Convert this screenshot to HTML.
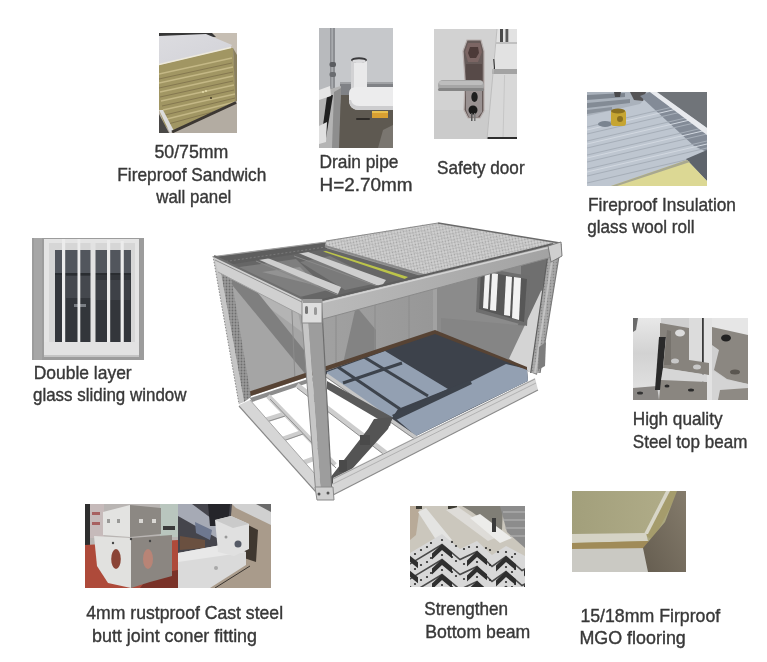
<!DOCTYPE html>
<html><head><meta charset="utf-8">
<style>
html,body{margin:0;padding:0;background:#fff;}
body{width:767px;height:662px;overflow:hidden;position:relative;}
svg{position:absolute;left:0;top:0;}
text{font-family:"Liberation Sans",sans-serif;fill:#383838;}
</style></head><body>
<svg width="767" height="662" viewBox="0 0 767 662">
<defs>
<clipPath id="c1"><rect x="159" y="33" width="78" height="100"/></clipPath>
<clipPath id="c2"><rect x="319" y="28" width="74" height="120"/></clipPath>
<clipPath id="c3"><rect x="434" y="29" width="83" height="110"/></clipPath>
<clipPath id="c4"><rect x="587" y="92" width="120" height="94"/></clipPath>
<clipPath id="c5"><rect x="32" y="238" width="112" height="122"/></clipPath>
<clipPath id="c6"><rect x="633" y="318" width="115" height="82"/></clipPath>
<clipPath id="c7"><rect x="85" y="504" width="93" height="84"/></clipPath>
<clipPath id="c7b"><rect x="178" y="504" width="93" height="84"/></clipPath>
<clipPath id="c8"><rect x="410" y="506" width="115" height="81"/></clipPath>
<clipPath id="c9"><rect x="572" y="491" width="114" height="81"/></clipPath>
<linearGradient id="g1top" x1="0" y1="0" x2="1" y2="1"><stop offset="0" stop-color="#dcdce0"/><stop offset="1" stop-color="#d2d2d8"/></linearGradient>
<linearGradient id="g6a" x1="0" y1="0" x2="0" y2="1"><stop offset="0" stop-color="#e8e8e8"/><stop offset="0.5" stop-color="#d2d2d2"/><stop offset="1" stop-color="#e0e0e0"/></linearGradient>
<linearGradient id="g9a" x1="0" y1="0" x2="1" y2="0"><stop offset="0" stop-color="#a29f7b"/><stop offset="1" stop-color="#b0ac88"/></linearGradient>
<linearGradient id="g9b" x1="0" y1="1" x2="1" y2="0"><stop offset="0" stop-color="#655d50"/><stop offset="1" stop-color="#857c6c"/></linearGradient>
<linearGradient id="gfr" x1="322" y1="0" x2="556" y2="0" gradientUnits="userSpaceOnUse"><stop offset="0" stop-color="#bababa"/><stop offset="1" stop-color="#a2a2a2"/></linearGradient>
<linearGradient id="gbw" x1="224" y1="0" x2="437" y2="0" gradientUnits="userSpaceOnUse"><stop offset="0" stop-color="#a8a8a8"/><stop offset="0.5" stop-color="#a0a0a0"/><stop offset="1" stop-color="#979797"/></linearGradient>
<pattern id="proof" width="3" height="3" patternUnits="userSpaceOnUse" patternTransform="rotate(-12)"><rect width="3" height="3" fill="#d2d2d2"/><circle cx="1.5" cy="1.5" r="0.9" fill="#a2a2a2"/></pattern>
<pattern id="pdot" width="3" height="3" patternUnits="userSpaceOnUse"><rect width="3" height="3" fill="#9a9a9a"/><circle cx="1.5" cy="1.5" r="0.9" fill="#6e6e6e"/></pattern>
<pattern id="pdot2" width="3" height="3" patternUnits="userSpaceOnUse"><rect width="3" height="3" fill="#a8a8a8"/><circle cx="1.5" cy="1.5" r="0.8" fill="#888"/></pattern>
</defs>

<g id="photos">
<!-- P1 sandwich panel -->
<g clip-path="url(#c1)">
<rect x="159" y="33" width="78" height="100" fill="#b7afa5"/>
<polygon points="205,33 237,33 237,72 229,46" fill="#c6beb3"/>
<polygon points="159,33 212,33 216,37 159,36" fill="#363636"/>
<polygon points="159,36 206,34 232,45 230,48 159,65" fill="url(#g1top)"/>
<polygon points="159,65 230,48 233,48 236,102 172,132 165,126 159,110" fill="#a19663"/>
<line x1="159" y1="64.5" x2="231" y2="47.5" stroke="#eeeadc" stroke-width="1.3"/>
<g stroke="#c4b886" stroke-width="1.3" fill="none">
<line x1="159" y1="74" x2="232" y2="58"/>
<line x1="159" y1="83" x2="233" y2="67"/>
<line x1="160" y1="92" x2="233" y2="76"/>
<line x1="161" y1="101" x2="234" y2="85"/>
<line x1="163" y1="110" x2="235" y2="94"/>
<line x1="167" y1="119" x2="235" y2="102"/>
</g>
<g stroke="#857850" stroke-width="1" fill="none">
<line x1="159" y1="79" x2="232" y2="63"/>
<line x1="159" y1="88" x2="233" y2="72"/>
<line x1="160" y1="97" x2="233" y2="81"/>
<line x1="162" y1="106" x2="234" y2="90"/>
<line x1="165" y1="115" x2="235" y2="98"/>
<line x1="168" y1="124" x2="235" y2="106"/>
</g>
<polygon points="233,48 237,55 237,102 235.5,102" fill="#8a8060"/>
<polygon points="159,110 163,110 174,131 170,133" fill="#dcdcdc"/>
<polygon points="159,114 169,133 159,133" fill="#4a4846"/>
<polygon points="236,101 237,101 237,133 176,133 173,131" fill="#b3aca2"/>
<line x1="236" y1="102.5" x2="172" y2="132" stroke="#3c3732" stroke-width="3"/>
<circle cx="203" cy="92" r="0.9" fill="#e8e0b0"/><circle cx="206" cy="91" r="0.9" fill="#e8e0b0"/><circle cx="211" cy="98" r="0.9" fill="#3a3020"/>
</g>
<!-- P2 drain pipe -->
<g clip-path="url(#c2)">
<rect x="319" y="28" width="74" height="120" fill="#c6c8cb"/>
<rect x="319" y="28" width="11" height="65" fill="#b8babd"/>
<rect x="330" y="28" width="5" height="62" fill="#8c8e92"/>
<rect x="331.5" y="28" width="1.3" height="60" fill="#b0b2b5"/>
<rect x="329.5" y="62" width="6.5" height="5" rx="2" fill="#5a5c60"/>
<rect x="329.5" y="72" width="6.5" height="5" rx="2" fill="#6a6c70"/>
<polygon points="340,82 393,82 393,95 340,95" fill="#808286"/>
<rect x="340" y="82" width="53" height="2" fill="#a0a2a5"/>
<polygon points="338,95 393,95 393,148 334,148" fill="#5e5951"/>
<polygon points="383,130 393,125 393,148 378,148" fill="#7a7670"/>
<rect x="356" y="118" width="14" height="2" rx="1" fill="#2e2b28"/>
<polygon points="319,92 341,86 338,148 319,148" fill="#b4b4b4"/>
<polygon points="327,96 333,95 326,138 321,140" fill="#202020"/>
<polygon points="319,90 330,86 331,96 319,100" fill="#e6e6e6"/>
<polygon points="319,126 327,122 326,142 319,144" fill="#e0e0e0"/>
<polygon points="334,92 341,88 339,148 332,148" fill="#8e8e8e"/>
<!-- pipe -->
<rect x="351" y="60" width="16" height="40" fill="#e9e9ea"/>
<rect x="351" y="60" width="3" height="34" fill="#d2d2d4"/>
<ellipse cx="359" cy="60" rx="8" ry="2.8" fill="#3a3a3c"/>
<ellipse cx="359" cy="61.2" rx="6.8" ry="1.9" fill="#dcdcde"/>
<path d="M349,93 Q349,87 357,87 L393,87 L393,110 L360,110 Q349,110 349,100 Z" fill="#ececed"/>
<path d="M349,100 Q349,110 360,110 L393,110 L393,106 L360,106 Q352,106 351,100 Z" fill="#cdcdcf"/>
<rect x="372" y="111" width="16" height="7" fill="#d9a032"/>
<rect x="372" y="111" width="16" height="2" fill="#e8c050"/>
</g>
<!-- P3 safety door -->
<g clip-path="url(#c3)">
<rect x="434" y="29" width="83" height="110" fill="#d2d2d2"/>
<rect x="434" y="110" width="60" height="29" fill="#cbcbcb"/>
<polygon points="497,29 517,29 517,139 487,139" fill="#d8d8d8"/>
<polygon points="497,29 517,29 517,69 492.5,69" fill="#e2e2e2"/>
<rect x="500" y="29" width="3" height="13" fill="#4a4a4a"/>
<rect x="505.5" y="29" width="2.8" height="13" fill="#5a5a5a"/>
<rect x="496" y="42" width="21" height="2" fill="#c0c0c0"/>
<polygon points="492.5,69 517,69 517,74 492,74" fill="#a3a3a3"/>
<rect x="493" y="59" width="2" height="10" fill="#333"/>
<line x1="504.6" y1="75" x2="503" y2="139" stroke="#c6c6c6" stroke-width="1"/>
<rect x="487" y="137" width="30" height="2" fill="#2e2e2e"/>
<line x1="497" y1="29" x2="487" y2="139" stroke="#bdbdbd" stroke-width="1"/>
<!-- lock plate -->
<polygon points="467,40 481,40 484,51 484,111 480,118 468,118 464,110 465,80 463,51" fill="#675b59" stroke="#b9b1b0" stroke-width="1.2"/>
<polygon points="468,43 480,43 482,52 478,62 468,62 465,52" fill="#7c6664"/>
<polygon points="470,47 478,47 479,53 476,58 470,58 468,53" fill="#4c3a38"/>
<polygon points="466,64 482,64 482,80 466,80" fill="#574a48"/>
<polygon points="466,90 482,90 482,112 478,117 469,117 466,110" fill="#9a9292"/>
<ellipse cx="474.5" cy="97" rx="3.2" ry="5" fill="#1e1e1e"/>
<ellipse cx="473" cy="110" rx="4.5" ry="4.5" fill="#1a1a1a"/>
<rect x="471" y="113" width="1.5" height="8" fill="#555"/>
<rect x="474" y="113" width="1.5" height="8" fill="#777"/>
<!-- lever -->
<rect x="438" y="80" width="46" height="11" rx="5" fill="#a6a6a6"/>
<rect x="439" y="81" width="44" height="4" rx="2" fill="#bdbdbd"/>
<rect x="438" y="88" width="46" height="3" rx="1.5" fill="#858585"/>
</g>
<!-- P4 insulation -->
<g clip-path="url(#c4)">
<rect x="587" y="92" width="120" height="95" fill="#bec6d0"/>
<polygon points="587,92 652,92 640,104 587,116" fill="#aab2bc"/>
<polygon points="587,95 625,93 625,97 587,100" fill="#7e8690"/>
<polygon points="587,103 630,99 630,103 587,108" fill="#838b95"/>
<polygon points="587,110 612,107 612,110 587,114" fill="#8a929c"/>
<polygon points="614,92 621,92 620,97 615,97" fill="#4a4a4c"/>
<polygon points="630,92 646,92 643,101 634,100" fill="#555456"/>
<polygon points="640,96 650,92 707,134 707,152 694,146" fill="#838b97"/>
<g stroke="#a6aeb8" stroke-width="1.2" fill="none">
<line x1="587" y1="127" x2="707" y2="99"/>
<line x1="587" y1="134" x2="707" y2="106"/>
<line x1="587" y1="141" x2="707" y2="113"/>
<line x1="587" y1="148" x2="707" y2="120"/>
<line x1="587" y1="155" x2="707" y2="127"/>
<line x1="587" y1="162" x2="707" y2="134"/>
<line x1="587" y1="169" x2="707" y2="141"/>
<line x1="587" y1="176" x2="707" y2="148"/>
<line x1="587" y1="183" x2="707" y2="155"/>
</g>
<g stroke="#d2d8e0" stroke-width="1" fill="none">
<line x1="587" y1="130" x2="707" y2="102"/>
<line x1="587" y1="144" x2="707" y2="116"/>
<line x1="587" y1="158" x2="707" y2="130"/>
<line x1="587" y1="172" x2="707" y2="144"/>
</g>
<polygon points="656,92 707,92 707,128" fill="#707479"/>
<polygon points="650,92 657,92 707,128 707,135" fill="#e8eaee"/>
<polygon points="686,159 707,150 707,181" fill="#5e646c"/>
<polygon points="608,187 687,160 707,181 707,187" fill="#dcd894"/>
<polygon points="608,187 687,160 690,162 614,187" fill="#a8a890"/>
<ellipse cx="605" cy="124" rx="7" ry="3" fill="#7a8490"/>
<rect x="611" y="110" width="15" height="16" rx="3" fill="#c6a532"/>
<ellipse cx="618" cy="111" rx="7" ry="2.5" fill="#8a7020"/>
<ellipse cx="620" cy="119" rx="3" ry="3" fill="#8a7020"/>
</g>
<!-- P5 window -->
<g clip-path="url(#c5)">
<rect x="32" y="238" width="112" height="122" fill="#9c9c9c"/>
<rect x="34" y="238" width="8" height="122" fill="#a6a6a6"/>
<rect x="44" y="239" width="95" height="118" fill="#e4e4e4"/>
<rect x="49" y="243" width="86" height="110" fill="#d6d6d6"/>
<rect x="55" y="250" width="76" height="92" fill="#33363b"/>
<rect x="55" y="250" width="76" height="23" fill="#52565d"/>
<rect x="66" y="276" width="26" height="22" fill="#45484e"/>
<rect x="96" y="280" width="34" height="20" fill="#3e4147"/>
<rect x="74" y="304" width="12" height="3" fill="#7a7e84"/>
<rect x="55" y="273" width="76" height="2" fill="#2a2d31"/>
<rect x="90.5" y="243" width="5" height="110" fill="#e2e2e2"/>
<g fill="#ececec">
<rect x="62" y="239" width="3.2" height="118"/>
<rect x="77.5" y="239" width="2.8" height="118"/>
<rect x="107" y="240" width="3.2" height="117"/>
<rect x="120.6" y="241" width="3.2" height="116"/>
</g>
<rect x="44" y="342" width="95" height="15" fill="#e2e2e2"/>
<rect x="44" y="355" width="95" height="2" fill="#c4c4c4"/>
</g>
<!-- P6 steel top beam -->
<g clip-path="url(#c6)">
<rect x="633" y="318" width="115" height="82" fill="#cfcfcf"/>
<polygon points="633,318 661,318 661,338 656,387 633,389" fill="url(#g6a)"/>
<polygon points="633,318 638,318 636,330 633,332" fill="#6a6a6a"/>
<polygon points="633,388 657,386 659,400 633,400" fill="#8a8784"/>
<ellipse cx="640" cy="393" rx="3" ry="1.5" fill="#333"/>
<polygon points="659,337 666,336 661,390 655,390" fill="#2a2a2a"/>
<polygon points="689,318 703,318 703,361 689,360" fill="#dcdcdc"/>
<polygon points="703,318 712,318 712,400 703,400" fill="#e2e2e2"/>
<rect x="702" y="318" width="1.8" height="82" fill="#3a3a3a"/>
<polygon points="660,323 689,328 689,360 709,363 709,375 663,368 666,337 660,337" fill="#87837d"/>
<polygon points="667,330 671,331 671,365 664,365" fill="#77736d"/>
<ellipse cx="680" cy="333" rx="5" ry="3.5" fill="#dcdcdc"/>
<ellipse cx="675" cy="361" rx="4" ry="2.5" fill="#c8c8c8"/>
<ellipse cx="697" cy="367" rx="4" ry="2.5" fill="#c8c8c8"/>
<polygon points="663,368 707,375 707,382 661,380" fill="#d6d6d6"/>
<polygon points="661,380 707,382 707,400 659,400" fill="#8a8680"/>
<ellipse cx="667" cy="386" rx="2.5" ry="1.5" fill="#2a2a2a"/>
<ellipse cx="691" cy="390" rx="3" ry="1.5" fill="#2a2a2a"/>
<polygon points="712,318 748,318 748,336 712,328" fill="#e6e6e6"/>
<polygon points="712,327 748,335 748,384 727,379 714,370 719,350 712,345" fill="#8b8781"/>
<ellipse cx="726" cy="338" rx="5" ry="3.5" fill="#222"/>
<ellipse cx="735" cy="372" rx="5" ry="2.5" fill="#5a5650"/>
<polygon points="712,370 727,380 748,384 748,400 712,400" fill="#d4d4d4"/>
<polygon points="720,390 748,388 748,400 718,400" fill="#8e8a84"/>
</g>
<!-- P7a corner fitting left -->
<g clip-path="url(#c7)">
<rect x="85" y="504" width="93" height="84" fill="#b9b5b3"/>
<rect x="85" y="504" width="5" height="42" fill="#2e2e2e"/>
<rect x="90" y="504" width="14" height="34" fill="#c6baba"/>
<rect x="92" y="512" width="8" height="3" fill="#a86060"/>
<rect x="92" y="522" width="8" height="3" fill="#a86060"/>
<rect x="160" y="504" width="18" height="33" fill="#b9c6be"/>
<rect x="163" y="526" width="12" height="4" fill="#3a3a3a"/>
<polygon points="85,545 178,540 178,588 85,588" fill="#ae4a3a"/>
<polygon points="150,575 178,570 178,588 140,588" fill="#7a3228"/>
<!-- upper box -->
<polygon points="103,512 130,505 130,537 103,535" fill="#e3e3e1"/>
<polygon points="130,505 161,508 161,534 130,537" fill="#8c8883"/>
<rect x="107" y="519" width="3" height="4" fill="#9a9a98"/>
<rect x="117" y="519" width="3" height="4" fill="#9a9a98"/>
<rect x="139" y="519" width="4" height="4" fill="#dad8d4"/>
<rect x="152" y="519" width="4" height="4" fill="#dad8d4"/>
<!-- lower box -->
<polygon points="94,536 131,538 131,588 108,583 97,566" fill="#e1e1df"/>
<polygon points="131,538 172,535 172,576 150,582 131,588" fill="#8b8681"/>
<ellipse cx="116" cy="559" rx="4.8" ry="10" fill="#8a4436"/>
<ellipse cx="148" cy="559" rx="5" ry="10" fill="#b88476"/>
<circle cx="113" cy="543" r="1.2" fill="#444"/>
<circle cx="131" cy="539" r="1.2" fill="#444"/>
<circle cx="150" cy="541" r="1.2" fill="#444"/>
</g>
<!-- P7b corner fitting right -->
<g clip-path="url(#c7b)">
<rect x="178" y="504" width="93" height="84" fill="#a99b8b"/>
<polygon points="178,504 232,504 230,527 222,558 178,560" fill="#45454c"/>
<polygon points="178,504 192,504 223,527 217,538 178,516" fill="#a6aab5"/>
<polygon points="195,522 212,530 210,540 196,533" fill="#6e7890"/>
<polygon points="180,536 205,540 205,548 180,550" fill="#6a5040"/>
<polygon points="208,504 230,504 228,526 210,526" fill="#25252a"/>
<polygon points="232,504 271,504 271,525 236,508" fill="#d0d0d0"/>
<polygon points="256,504 271,504 271,512" fill="#6a6a6a"/>
<polygon points="246,524 258,530 256,562 244,558" fill="#403830"/>
<polygon points="178,553 221,545 246,552 246,565 210,588 178,588" fill="#dadada"/>
<polygon points="178,553 221,545 246,552 220,556 178,562" fill="#e8e8e8"/>
<polygon points="215,520 231,516 249,524 249,549 234,556 218,552" fill="#e0e0e0"/>
<polygon points="215,520 231,516 249,524 233,528" fill="#cacaca"/>
<circle cx="238" cy="544" r="3.5" fill="#555a66"/>
<circle cx="226" cy="537" r="1.5" fill="#999"/>
<circle cx="216" cy="568" r="2" fill="#a8a8a8"/>
<line x1="215" y1="588" x2="250" y2="566" stroke="#3a3530" stroke-width="1"/>
</g>
<!-- P8 bottom beam -->
<g clip-path="url(#c8)">
<rect x="410" y="506" width="115" height="81" fill="#cbc7bd"/>
<polygon points="410,506 420,506 416,535 410,540" fill="#b8aa98"/>
<polygon points="462,506 503,506 502,530 488,524 472,512" fill="#807e76"/>
<rect x="416" y="506" width="6" height="3" fill="#3e3c34"/>
<rect x="448" y="506" width="9" height="3" fill="#3e3c34"/>
<polygon points="418,512 426,508 452,540 440,546" fill="#e4e4e2"/>
<polygon points="446,510 458,507 500,536 488,541" fill="#dedcd8"/>
<polygon points="470,518 480,514 512,538 500,543" fill="#ececea"/>
<polygon points="500,506 525,506 525,548 507,532" fill="#8c8c8c"/>
<rect x="492" y="518" width="4" height="14" fill="#3a3a3a"/>
<g stroke="#b2b2b2" stroke-width="1.2"><line x1="503" y1="512" x2="525" y2="512"/><line x1="503" y1="520" x2="525" y2="520"/><line x1="505" y1="528" x2="525" y2="528"/><line x1="510" y1="536" x2="525" y2="536"/></g>
<polygon points="410,553 442,534 460,549 477,541 492,555 506,546 525,556 525,587 410,587" fill="#d8d8d8"/>
<polyline points="404,567.5 442,544.5 460,559.5 477,551.5 492,566.5 506,556.5 522,570.5 532,565.5" fill="none" stroke="#4a4a4a" stroke-width="1.6"/>
<polygon points="408,554 418,562.3 418,568.3 408,560 398,569.4 398,563.4" fill="#2f2f2f"/>
<polygon points="442,544 452,552.3 452,558.3 442,550 432,559.4 432,553.4" fill="#2f2f2f"/>
<polygon points="477,551 487,559.3 487,565.3 477,557 467,566.4 467,560.4" fill="#2f2f2f"/>
<polygon points="506,556 516,564.3 516,570.3 506,562 496,571.4 496,565.4" fill="#2f2f2f"/>
<polygon points="534,561 544,569.3 544,575.3 534,567 524,576.4 524,570.4" fill="#2f2f2f"/>
<polyline points="404,582.5 442,559.5 460,574.5 477,566.5 492,581.5 506,571.5 522,585.5 532,580.5" fill="none" stroke="#4a4a4a" stroke-width="1.6"/>
<polygon points="408,569 418,577.3 418,583.3 408,575 398,584.4 398,578.4" fill="#2f2f2f"/>
<polygon points="442,559 452,567.3 452,573.3 442,565 432,574.4 432,568.4" fill="#2f2f2f"/>
<polygon points="477,566 487,574.3 487,580.3 477,572 467,581.4 467,575.4" fill="#2f2f2f"/>
<polygon points="506,571 516,579.3 516,585.3 506,577 496,586.4 496,580.4" fill="#2f2f2f"/>
<polygon points="534,576 544,584.3 544,590.3 534,582 524,591.4 524,585.4" fill="#2f2f2f"/>
<polyline points="404,597.5 442,574.5 460,589.5 477,581.5 492,596.5 506,586.5 522,600.5 532,595.5" fill="none" stroke="#4a4a4a" stroke-width="1.6"/>
<polygon points="408,584 418,592.3 418,598.3 408,590 398,599.4 398,593.4" fill="#2f2f2f"/>
<polygon points="442,574 452,582.3 452,588.3 442,580 432,589.4 432,583.4" fill="#2f2f2f"/>
<polygon points="477,581 487,589.3 487,595.3 477,587 467,596.4 467,590.4" fill="#2f2f2f"/>
<polygon points="506,586 516,594.3 516,600.3 506,592 496,601.4 496,595.4" fill="#2f2f2f"/>
<polygon points="534,591 544,599.3 544,605.3 534,597 524,606.4 524,600.4" fill="#2f2f2f"/>
<polyline points="404,612.5 442,589.5 460,604.5 477,596.5 492,611.5 506,601.5 522,615.5 532,610.5" fill="none" stroke="#4a4a4a" stroke-width="1.6"/>
<polygon points="408,599 418,607.3 418,613.3 408,605 398,614.4 398,608.4" fill="#2f2f2f"/>
<polygon points="442,589 452,597.3 452,603.3 442,595 432,604.4 432,598.4" fill="#2f2f2f"/>
<polygon points="477,596 487,604.3 487,610.3 477,602 467,611.4 467,605.4" fill="#2f2f2f"/>
<polygon points="506,601 516,609.3 516,615.3 506,607 496,616.4 496,610.4" fill="#2f2f2f"/>
<polygon points="534,606 544,614.3 544,620.3 534,612 524,621.4 524,615.4" fill="#2f2f2f"/>
<g fill="#2c2c2c"><circle cx="421" cy="550" r="1.1"/><circle cx="431" cy="543" r="1.1"/><circle cx="452" cy="542" r="1.1"/><circle cx="469" cy="547" r="1.1"/><circle cx="486" cy="548" r="1.1"/><circle cx="498" cy="552" r="1.1"/><circle cx="515" cy="554" r="1.1"/><circle cx="442" cy="540" r="1.1"/><circle cx="477" cy="547" r="1.1"/><circle cx="506" cy="552" r="1.1"/><circle cx="415" cy="554" r="1.1"/><circle cx="427" cy="547" r="1.1"/><circle cx="456" cy="546" r="1.1"/><circle cx="464" cy="549" r="1.1"/><circle cx="490" cy="550" r="1.1"/><circle cx="512" cy="557" r="1.1"/><circle cx="421" cy="565" r="1.1"/><circle cx="431" cy="558" r="1.1"/><circle cx="452" cy="557" r="1.1"/><circle cx="469" cy="562" r="1.1"/><circle cx="486" cy="563" r="1.1"/><circle cx="498" cy="567" r="1.1"/><circle cx="515" cy="569" r="1.1"/><circle cx="442" cy="555" r="1.1"/><circle cx="477" cy="562" r="1.1"/><circle cx="506" cy="567" r="1.1"/><circle cx="415" cy="569" r="1.1"/><circle cx="427" cy="562" r="1.1"/><circle cx="456" cy="561" r="1.1"/><circle cx="464" cy="564" r="1.1"/><circle cx="490" cy="565" r="1.1"/><circle cx="512" cy="572" r="1.1"/><circle cx="421" cy="580" r="1.1"/><circle cx="431" cy="573" r="1.1"/><circle cx="452" cy="572" r="1.1"/><circle cx="469" cy="577" r="1.1"/><circle cx="486" cy="578" r="1.1"/><circle cx="498" cy="582" r="1.1"/><circle cx="515" cy="584" r="1.1"/><circle cx="442" cy="570" r="1.1"/><circle cx="477" cy="577" r="1.1"/><circle cx="506" cy="582" r="1.1"/><circle cx="415" cy="584" r="1.1"/><circle cx="427" cy="577" r="1.1"/><circle cx="456" cy="576" r="1.1"/><circle cx="464" cy="579" r="1.1"/><circle cx="490" cy="580" r="1.1"/><circle cx="512" cy="587" r="1.1"/><circle cx="421" cy="595" r="1.1"/><circle cx="431" cy="588" r="1.1"/><circle cx="452" cy="587" r="1.1"/><circle cx="469" cy="592" r="1.1"/><circle cx="486" cy="593" r="1.1"/><circle cx="498" cy="597" r="1.1"/><circle cx="515" cy="599" r="1.1"/><circle cx="442" cy="585" r="1.1"/><circle cx="477" cy="592" r="1.1"/><circle cx="506" cy="597" r="1.1"/><circle cx="415" cy="599" r="1.1"/><circle cx="427" cy="592" r="1.1"/><circle cx="456" cy="591" r="1.1"/><circle cx="464" cy="594" r="1.1"/><circle cx="490" cy="595" r="1.1"/><circle cx="512" cy="602" r="1.1"/></g>
</g>
<!-- P9 MGO flooring -->
<g clip-path="url(#c9)">
<rect x="572" y="491" width="114" height="81" fill="#aaa67d"/>
<polygon points="572,491 668,491 646,534 572,535" fill="url(#g9a)"/>
<polygon points="668,491 679,491 653,540 646,536" fill="#a59c6c"/>
<polygon points="666,491 670,491 648,534 644,534" fill="#d8d6c8"/>
<polygon points="572,534 646,533 648,541 572,543" fill="#d5d3c5"/>
<polygon points="572,543 648,541 651,549 572,549" fill="#a08b58"/>
<polygon points="572,549 651,548 654,572 572,572" fill="#cac9c3"/>
<polygon points="677,491 686,491 686,572 648,572 643,548 665,522" fill="url(#g9b)"/>
</g>
</g>

<g id="container">
<!-- back wall -->
<polygon points="224,266 437,229 437,334 248,397" fill="url(#gbw)"/>
<polygon points="226,276 304,262 308,374 249,394" fill="#a5a5a5"/>
<polygon points="248,292 292,282 302,332" fill="#b4b4b4"/>
<polygon points="228,280 246,278 312,360 307,376" fill="#7f7f7f"/>
<polygon points="356,306 376,330 376,358 342,368" fill="#838383"/>
<g stroke="#8c8c8c" stroke-width="1">
<line x1="291" y1="290" x2="295" y2="380"/>
<line x1="336" y1="268" x2="336" y2="368"/>
<line x1="375" y1="262" x2="375" y2="355"/>
<line x1="409" y1="255" x2="409" y2="343"/>
</g>
<!-- interior back corner post -->
<polygon points="433,232 441,232 441,334 433,334" fill="#a2a2a2"/>
<line x1="441" y1="232" x2="441" y2="334" stroke="#8a8a8a" stroke-width="1"/>
<!-- right wall -->
<polygon points="437,229 556,252 537,375 437,334" fill="#8b8b8b"/>
<polygon points="521,262 549,256 541.5,291.5 509,358.7 504,356 521,318" fill="#6f6f6f"/>
<polygon points="441,318 528,326 527,368 441,334" fill="#858585"/>
<polygon points="541,291 543,290 531,373 509,358.7" fill="#d4d4d4"/>
<!-- window -->
<polygon points="478,267 530,276 527,326 476,312" fill="#6e6e6e"/>
<polygon points="481,271 527,279 524,322 479,309" fill="#575757"/>
<g fill="#f3f3f3">
<polygon points="485,272 490,273 488,309 483,308"/>
<polygon points="492,273 498,274 496,311 490,310"/>
<polygon points="506,276 512,277 510,316 504,315"/>
<polygon points="514,277 521,278 519,320 512,318"/>
</g>
<!-- floor base (dark) -->
<polygon points="326,371 435,332 527,369 528,381 416,436 326,376" fill="#3d424b"/>
<!-- lit patches -->
<polygon points="327,372 385,351 448,389 398,409 392,418 327,377" fill="#93a0b2"/>
<!-- lit strip -->
<polygon points="395,418 470,382 506,364 527,369 528,381 470,409 416,436" fill="#93a0b2"/>
<g stroke="#3d434c" stroke-width="3" fill="none">
<line x1="364" y1="357" x2="428" y2="396"/>
<line x1="338" y1="367" x2="400" y2="409"/>
<line x1="343" y1="383" x2="402" y2="363"/>
</g>
<polygon points="392,415 448,389 470,380 472,384 396,420" fill="#3d434c"/>
<!-- baseboard -->
<polygon points="248,392 435,330 435,334 248,397" fill="#574334"/>
<polygon points="435,330 527,367 527,370 435,334" fill="#574334"/>
<polygon points="250,398 326,373 326,377 252,402" fill="#8c8c8c"/>
<!-- open floor left area -->
<g stroke="#cdcdcd" stroke-width="5" fill="none" stroke-linecap="butt">
<line x1="268" y1="396" x2="335" y2="465"/>
<line x1="297" y1="385" x2="395" y2="460"/>
<line x1="263" y1="421" x2="285" y2="414"/>
<line x1="280" y1="440" x2="303" y2="432"/>
<line x1="302" y1="463" x2="313" y2="459"/>
</g>
<g stroke="#8f8f8f" stroke-width="1" fill="none">
<line x1="270" y1="399" x2="336" y2="468"/>
<line x1="297" y1="388" x2="395" y2="463"/>
<line x1="263" y1="423" x2="285" y2="416"/>
<line x1="280" y1="442" x2="303" y2="434"/>
</g>
<line x1="326" y1="375" x2="416" y2="438" stroke="#c6c6c6" stroke-width="4"/>
<line x1="326" y1="377" x2="416" y2="440" stroke="#8c8c8c" stroke-width="1"/>
<!-- shadow bands -->
<polygon points="327,381 392,417 390,426 327,389" fill="#5a5a5a"/>
<polygon points="374,419 393,417 388,429 353,468 343,480 333,485 330,478 368,429" fill="#545454"/>
<polygon points="360,435 370,435 370,445 360,445" fill="#4a4a4a"/>
<polygon points="339,460 347,460 347,472 339,472" fill="#4a4a4a"/>
<!-- bottom left side rail -->
<polygon points="239,405 250,400 322,482 316,491" fill="#d6d6d6"/>
<line x1="239" y1="406" x2="316" y2="492" stroke="#8a8a8a" stroke-width="1.2"/>
<line x1="250" y1="400" x2="322" y2="482" stroke="#a8a8a8" stroke-width="1"/>
<!-- bottom front rail -->
<polygon points="333,478 535,378 538,390 333,495" fill="#d6d6d6"/>
<line x1="333" y1="495" x2="538" y2="390" stroke="#8a8a8a" stroke-width="1.2"/>
<line x1="333" y1="479" x2="535" y2="379" stroke="#9a9a9a" stroke-width="1"/>
<line x1="333" y1="484" x2="536" y2="383" stroke="#a8a8a8" stroke-width="0.8"/>
<!-- left post -->
<polygon points="213,256 218,257 244,402 239,404" fill="#c6c6c6"/>
<polygon points="218,257 229,264 251,397 244,402" fill="url(#pdot)"/>
<line x1="213" y1="256" x2="239" y2="404" stroke="#8a8a8a" stroke-width="1" stroke-dasharray="1.5,1.5"/>
<!-- right post -->
<polygon points="547.7,256 561,244 540,373 530.7,373" fill="url(#pdot2)"/>
<line x1="553" y1="254" x2="535" y2="373" stroke="#c2c2c2" stroke-width="2"/>
<line x1="561" y1="244" x2="540" y2="373" stroke="#7a7a7a" stroke-width="1.2"/>
<line x1="547.7" y1="256" x2="530.7" y2="373" stroke="#5e5e5e" stroke-width="1.2"/>
<polygon points="539,347 546,342 545,366 538,370" fill="#7d7d7d"/>
<!-- front post -->
<polygon points="300.6,303 307,303 320.6,489 315.5,489" fill="#c6c6c6"/>
<polygon points="307,303 321.6,303 331.8,489 320.6,489" fill="#9d9d9d"/>
<line x1="300.6" y1="303" x2="315.5" y2="489" stroke="#8a8a8a" stroke-width="1"/>
<line x1="321.6" y1="303" x2="331.8" y2="489" stroke="#6e6e6e" stroke-width="1.2"/>
<polygon points="315,487 333,487 334,500 317,500" fill="#d0d0d0" stroke="#8a8a8a" stroke-width="1"/>
<circle cx="319" cy="494" r="1.5" fill="#555"/>
<circle cx="328" cy="493" r="1.5" fill="#555"/>
<!-- ROOF: open area -->
<polygon points="220,263 326,248 428,278 322,301 303,300" fill="#666666"/>
<polygon points="232,268 296,259 328,290 300,297" fill="#7e7e7e"/>
<polygon points="300,262 330,256 382,282 345,290" fill="#7a7a7a"/>
<polygon points="262,272 300,267 318,286" fill="#939393"/>
<!-- joists -->
<polygon points="255,258 260,255 341,287 338,294" fill="#cecece"/>
<polygon points="291,250 297,248 386,280 381,287" fill="#cecece"/>
<line x1="256" y1="261" x2="338" y2="295" stroke="#8a8a8a" stroke-width="1"/>
<line x1="294" y1="256" x2="383" y2="288" stroke="#8a8a8a" stroke-width="1"/>
<polygon points="323,251.5 326,251 408,277 405,279" fill="#bcc44a"/>
<!-- back rail top -->
<polygon points="214,256.5 326,242 327,249 222,266" fill="#5e5e5e"/>
<line x1="214" y1="256.5" x2="326" y2="242" stroke="#a0a0a0" stroke-width="1.2"/>
<line x1="222" y1="262" x2="326" y2="247" stroke="#7a7a7a" stroke-width="1" stroke-dasharray="2,2"/>
<!-- roof panels -->
<polygon points="326,241 438,223 560,243 553,245 427,276 325,247" fill="url(#proof)"/>
<g stroke="#bdbdbd" stroke-width="0.8">
<line x1="338" y1="239" x2="438" y2="274"/>
<line x1="350" y1="237" x2="450" y2="271"/>
<line x1="362" y1="235" x2="462" y2="268"/>
<line x1="374" y1="233" x2="474" y2="266"/>
<line x1="386" y1="231" x2="486" y2="263"/>
<line x1="398" y1="229" x2="498" y2="260"/>
<line x1="410" y1="227" x2="510" y2="258"/>
<line x1="422" y1="225" x2="522" y2="255"/>
<line x1="434" y1="224" x2="534" y2="252"/>
<line x1="448" y1="225" x2="546" y2="250"/>
</g>
<line x1="325" y1="246" x2="427" y2="276" stroke="#8a8a8a" stroke-width="2"/>
<line x1="326" y1="241" x2="438" y2="223" stroke="#8a8a8a" stroke-width="1"/>
<line x1="438" y1="223" x2="560" y2="243" stroke="#6a6a6a" stroke-width="1.5"/>
<!-- left side top rail -->
<polygon points="214,256 303,299 303,316 218,272" fill="#d0d0d0"/>
<line x1="214" y1="256" x2="303" y2="299" stroke="#6e6e6e" stroke-width="2"/>
<line x1="215" y1="260" x2="303" y2="302.5" stroke="#8e8e8e" stroke-width="1"/>
<line x1="218" y1="272" x2="303" y2="316" stroke="#a0a0a0" stroke-width="1"/>
<!-- front top rail -->
<polygon points="322,301 553,245 556,256 323,319" fill="url(#gfr)"/>
<line x1="322" y1="300" x2="553" y2="244" stroke="#5e5e5e" stroke-width="2"/>
<line x1="322" y1="302.5" x2="553" y2="246.5" stroke="#d4d4d4" stroke-width="1.5"/>
<line x1="323" y1="319" x2="556" y2="256" stroke="#8a8a8a" stroke-width="1"/>
<!-- corner block front -->
<rect x="302" y="300" width="20" height="23" fill="#dedede" stroke="#8a8a8a" stroke-width="1"/>
<rect x="303" y="299" width="19" height="4" fill="#9a9a9a"/>
<rect x="305" y="306" width="3" height="8" rx="1.5" fill="#777"/>
<rect x="314" y="307" width="3" height="8" rx="1.5" fill="#999"/>
<!-- right top corner -->
<polygon points="548,246 561,242 562,256 551,262" fill="#cfcfcf" stroke="#7a7a7a" stroke-width="1"/>
</g>

<!-- TEXT -->
<g font-size="19" style="filter:grayscale(1)" stroke="#383838" stroke-width="0.4">
<text x="154.4" y="158.4" textLength="74" lengthAdjust="spacingAndGlyphs">50/75mm</text>
<text x="117.3" y="181.3" textLength="149" lengthAdjust="spacingAndGlyphs">Fireproof Sandwich</text>
<text x="156.3" y="202.5" textLength="75" lengthAdjust="spacingAndGlyphs">wall panel</text>
<text x="319.5" y="168" textLength="79" lengthAdjust="spacingAndGlyphs">Drain pipe</text>
<text x="319.5" y="190.9" textLength="93" lengthAdjust="spacingAndGlyphs">H=2.70mm</text>
<text x="437" y="174.3" textLength="87.6" lengthAdjust="spacingAndGlyphs">Safety door</text>
<text x="588" y="210.6" textLength="148" lengthAdjust="spacingAndGlyphs">Fireproof Insulation</text>
<text x="587.3" y="232.5" textLength="107.3" lengthAdjust="spacingAndGlyphs">glass wool roll</text>
<text x="33.7" y="379.4" textLength="98" lengthAdjust="spacingAndGlyphs">Double layer</text>
<text x="33" y="401.3" textLength="153.5" lengthAdjust="spacingAndGlyphs">glass sliding window</text>
<text x="632.8" y="424.9" textLength="89.7" lengthAdjust="spacingAndGlyphs">High quality</text>
<text x="632.8" y="447.9" textLength="114.6" lengthAdjust="spacingAndGlyphs">Steel top beam</text>
<text x="86.3" y="619.4" textLength="196.8" lengthAdjust="spacingAndGlyphs">4mm rustproof Cast steel</text>
<text x="92" y="641.8" textLength="165" lengthAdjust="spacingAndGlyphs">butt joint coner fitting</text>
<text x="424.3" y="615.3" textLength="83.6" lengthAdjust="spacingAndGlyphs">Strengthen</text>
<text x="425.2" y="638.2" textLength="105.1" lengthAdjust="spacingAndGlyphs">Bottom beam</text>
<text x="580.4" y="621.9" textLength="139.8" lengthAdjust="spacingAndGlyphs">15/18mm Firproof</text>
<text x="579.4" y="644.2" textLength="106.4" lengthAdjust="spacingAndGlyphs">MGO flooring</text>
</g>
</svg>
</body></html>
